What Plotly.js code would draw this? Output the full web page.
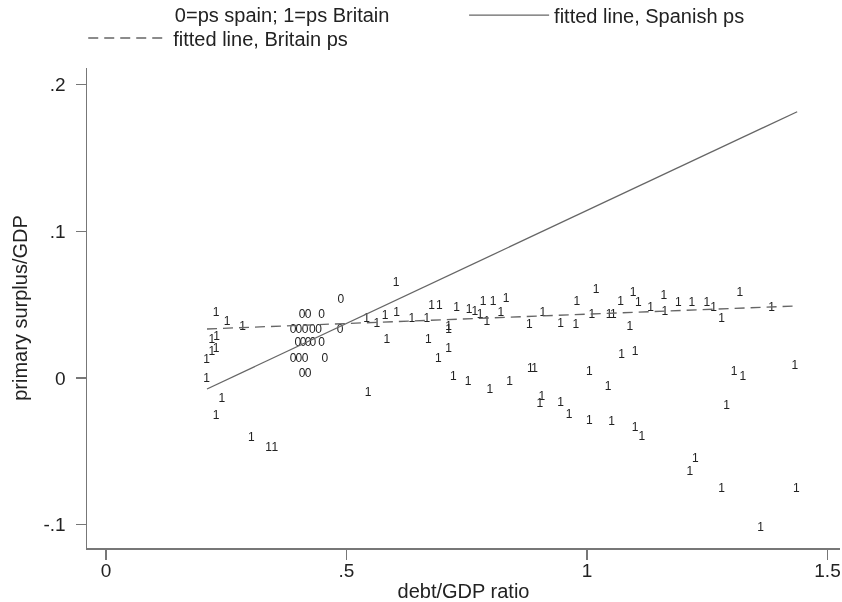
<!DOCTYPE html>
<html>
<head>
<meta charset="utf-8">
<script src="https://cdn.plot.ly/plotly-3.0.1.min.js"></script>
<style>html,body{margin:0;padding:0;background:#fff;}#chart{width:842px;height:602px;filter:grayscale(100%);}</style>
</head>
<body>
<div id="chart"></div>
<script>
// Spanish primary surplus (label "0")
const spainDebt = [0.488, 0.4075, 0.420, 0.448, 0.389, 0.401, 0.414, 0.429, 0.442, 0.4865, 0.399, 0.410, 0.420, 0.430, 0.448, 0.389, 0.401, 0.414, 0.455, 0.4075, 0.420];
const spainPs   = [0.053, 0.043, 0.043, 0.043, 0.033, 0.033, 0.033, 0.033, 0.033, 0.033, 0.024, 0.024, 0.024, 0.024, 0.024, 0.013, 0.013, 0.013, 0.013, 0.003, 0.003];

// British primary surplus (label "1")
const britainDebt = [0.229,0.252,0.284,0.220,0.230,0.209,0.220,0.229,0.209,0.241,
  0.229,0.302,0.338,0.351,0.545,0.603,0.542,0.563,0.580,0.604,
  0.636,0.667,0.677,0.693,0.729,0.755,0.767,0.784,0.778,0.792,
  0.805,0.832,0.821,0.712,0.712,0.584,0.670,0.691,0.712,0.722,
  0.753,0.798,0.839,0.880,0.908,0.945,0.979,0.977,1.010,1.019,
  0.882,0.891,0.906,0.902,0.945,0.963,1.005,1.005,1.046,1.055,
  1.070,1.096,1.107,1.089,1.132,1.160,1.162,1.190,1.218,1.249,
  1.263,1.280,1.318,1.384,1.072,1.100,1.044,1.306,1.324,1.432,
  1.290,1.051,1.100,1.114,1.225,1.214,1.280,1.435,1.361];
const britainPs = [0.044,0.038,0.035,0.026,0.028,0.012,0.018,0.020,-0.001,-0.014,
  -0.026,-0.041,-0.048,-0.048,-0.010,0.065,0.040,0.037,0.042,0.044,
  0.040,0.040,0.049,0.049,0.048,0.046,0.045,0.052,0.043,0.038,
  0.052,0.054,0.044,0.033,0.035,0.026,0.026,0.013,0.020,0.001,
  -0.003,-0.008,-0.003,0.036,0.044,0.037,0.052,0.036,0.043,0.060,
  0.006,0.006,-0.013,-0.018,-0.017,-0.025,-0.029,0.004,0.043,0.043,
  0.052,0.058,0.051,0.035,0.048,0.056,0.045,0.051,0.051,0.051,
  0.048,0.040,0.058,0.048,0.016,0.018,-0.006,0.004,0.001,0.008,
  -0.019,-0.030,-0.034,-0.040,-0.055,-0.064,-0.076,-0.076,-0.102];

// Fitted lines (end points)
const fitDebt = [0.21, 1.437];
const spainFit = [-0.0075, 0.1815];
const britainFit = [0.0334, 0.0491];

const xTickVals = [0, 0.5, 1, 1.5];
const xTickText = ['0', '.5', '1', '1.5'];
const yTickVals = [-0.1, 0, 0.1, 0.2];
const yTickText = ['-.1', '0', '.1', '.2'];

const FONT = 'Liberation Sans, Arial, sans-serif';
const markFont = {family: FONT, size: 12, color: '#222'};

const traces = [
  {x: spainDebt, y: spainPs, mode: 'text', text: '0', textposition: 'middle center',
   textfont: markFont, showlegend: false, hoverinfo: 'x+y', name: '0=ps spain'},
  {x: britainDebt, y: britainPs, mode: 'text', text: '1', textposition: 'middle center',
   textfont: markFont, showlegend: false, hoverinfo: 'x+y', name: '1=ps Britain'},
  {x: fitDebt, y: spainFit, mode: 'lines', name: 'fitted line, Spanish ps',
   line: {color: '#666', width: 1.3}, legend: 'legend2'},
  {x: fitDebt, y: britainFit, mode: 'lines', name: 'fitted line, Britain ps',
   line: {color: '#666', width: 1.3, dash: '10px,6px'}, legend: 'legend'}
];

const axisCommon = {
  showline: true, linecolor: '#777', linewidth: 1.5,
  ticks: 'outside', ticklen: 10, tickcolor: '#777', tickwidth: 1.5,
  showgrid: false, zeroline: false, automargin: false,
  tickfont: {family: FONT, size: 19, color: '#222'}
};

const layout = {
  width: 842, height: 602,
  margin: {l: 87, r: 2, t: 68, b: 54, autoexpand: false},
  paper_bgcolor: '#fff', plot_bgcolor: '#fff',
  font: {family: FONT, color: '#222'},
  xaxis: Object.assign({}, axisCommon, {
    range: [-0.0395, 1.526], tickmode: 'array', tickvals: xTickVals, ticktext: xTickText,
    ticklabelstandoff: -5,
    title: {text: 'debt/GDP ratio', font: {family: FONT, size: 20, color: '#222'}, standoff: 6}
  }),
  yaxis: Object.assign({}, axisCommon, {
    range: [-0.1159, 0.2113], tickmode: 'array', tickvals: yTickVals, ticktext: yTickText,
    ticklabelstandoff: 6,
    title: {text: 'primary surplus/GDP', font: {family: FONT, size: 20, color: '#222'}, standoff: 10}
  }),
  legend: {
    x: -0.005, xanchor: 'left', y: 1.0625, yanchor: 'middle',
    orientation: 'h', itemwidth: 80, bgcolor: 'rgba(0,0,0,0)',
    font: {family: FONT, size: 20, color: '#222'}
  },
  legend2: {
    x: 0.114, xanchor: 'left', y: 1.11, yanchor: 'middle',
    orientation: 'h', itemwidth: 80, bgcolor: 'rgba(0,0,0,0)',
    font: {family: FONT, size: 20, color: '#222'},
    title: {text: '0=ps spain; 1=ps Britain' + '\u00a0'.repeat(12), side: 'left',
            font: {family: FONT, size: 20, color: '#222'}}
  },
  showlegend: true
};

Plotly.newPlot('chart', traces, layout, {displayModeBar: false, staticPlot: true});
</script>
</body>
</html>
